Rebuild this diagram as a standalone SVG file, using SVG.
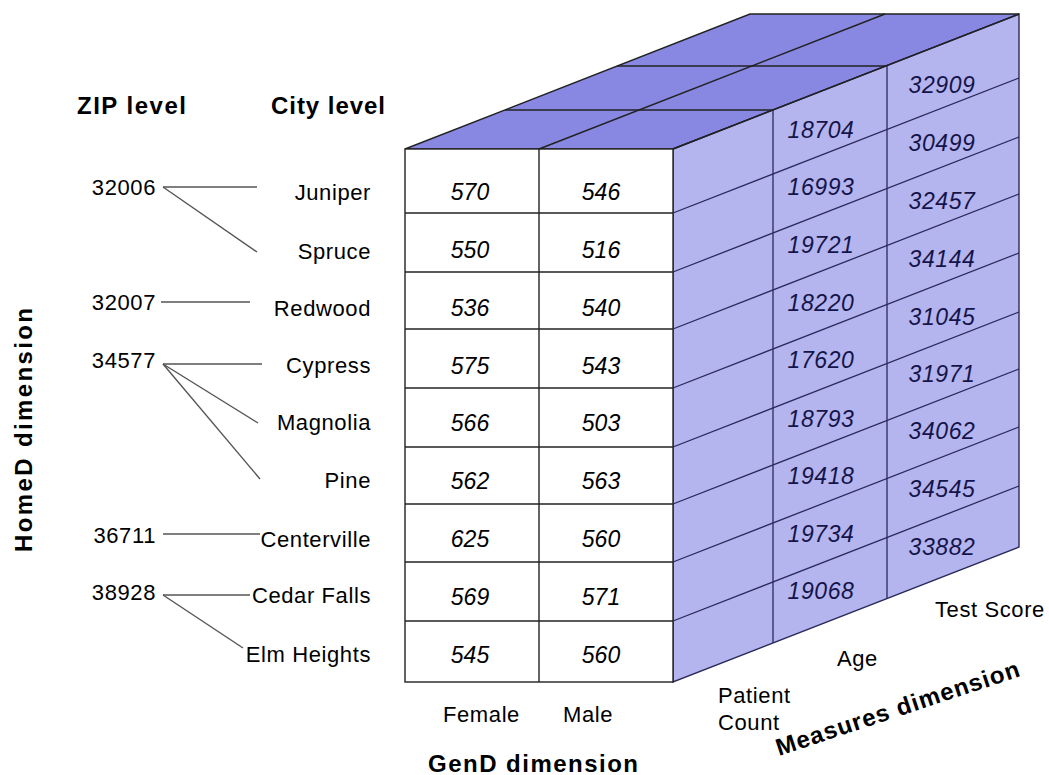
<svg xmlns="http://www.w3.org/2000/svg" width="1049" height="775" viewBox="0 0 1049 775">
<style>
text{font-family:"Liberation Sans",Arial,sans-serif;fill:#000}
.lvl{font-size:24px;font-weight:bold}
.reg{font-size:22px;letter-spacing:0.6px}
.zip{font-size:22px;letter-spacing:0.6px;text-anchor:end}
.city{font-size:22px;letter-spacing:0.6px;text-anchor:end}
.val{font-size:23px;font-style:italic;text-anchor:middle}
.mv{font-size:23px;font-style:italic;text-anchor:middle;letter-spacing:0.6px;fill:#14144a}
.edge{stroke:#222;stroke-width:1.4;fill:none}
.rline{stroke:#2a2a5c;stroke-width:1.3;fill:none}
.conn{stroke:#555;stroke-width:1.4;fill:none}
</style>
<rect width="1049" height="775" fill="#fff"/>

<g id="cube">
  <polygon points="405,149 673,149 1019,14 750,14" fill="#8888e2" stroke="#222" stroke-width="1.4"/>
  <polygon points="673,149 1019,14 1019,547 673,682" fill="#b4b4ee" stroke="#2a2a5c" stroke-width="1.4"/>
  <rect x="405" y="149" width="268" height="533" fill="#fff" stroke="#222" stroke-width="1.4"/>
  <g class="edge">
    <line x1="505" y1="110" x2="773" y2="110"/>
    <line x1="617" y1="66" x2="887" y2="66"/>
    <line x1="539" y1="149" x2="885" y2="14"/>
    <line x1="673" y1="149" x2="1019" y2="14"/>
    <line x1="539" y1="149" x2="539" y2="682"/>
    <line x1="405" y1="213" x2="673" y2="213"/>
    <line x1="405" y1="272" x2="673" y2="272"/>
    <line x1="405" y1="329" x2="673" y2="329"/>
    <line x1="405" y1="388" x2="673" y2="388"/>
    <line x1="405" y1="447" x2="673" y2="447"/>
    <line x1="405" y1="504" x2="673" y2="504"/>
    <line x1="405" y1="562" x2="673" y2="562"/>
    <line x1="405" y1="621" x2="673" y2="621"/>
  </g>
  <g class="rline">
    <line x1="773" y1="110" x2="773" y2="643"/>
    <line x1="887" y1="66" x2="887" y2="599"/>
    <line x1="673" y1="213" x2="1019" y2="78"/>
    <line x1="673" y1="272" x2="1019" y2="137"/>
    <line x1="673" y1="329" x2="1019" y2="194"/>
    <line x1="673" y1="388" x2="1019" y2="253"/>
    <line x1="673" y1="447" x2="1019" y2="312"/>
    <line x1="673" y1="504" x2="1019" y2="369"/>
    <line x1="673" y1="562" x2="1019" y2="427"/>
    <line x1="673" y1="621" x2="1019" y2="486"/>
  </g>
</g>

<g id="front-values">
  <text class="val" x="470" y="200">570</text><text class="val" x="601" y="200">546</text>
  <text class="val" x="470" y="258">550</text><text class="val" x="601" y="258">516</text>
  <text class="val" x="470" y="316">536</text><text class="val" x="601" y="316">540</text>
  <text class="val" x="470" y="374">575</text><text class="val" x="601" y="374">543</text>
  <text class="val" x="470" y="431">566</text><text class="val" x="601" y="431">503</text>
  <text class="val" x="470" y="489">562</text><text class="val" x="601" y="489">563</text>
  <text class="val" x="470" y="547">625</text><text class="val" x="601" y="547">560</text>
  <text class="val" x="470" y="605">569</text><text class="val" x="601" y="605">571</text>
  <text class="val" x="470" y="663">545</text><text class="val" x="601" y="663">560</text>
</g>

<g id="age-values">
  <text class="mv" x="821" y="138">18704</text>
  <text class="mv" x="821" y="195">16993</text>
  <text class="mv" x="821" y="253">19721</text>
  <text class="mv" x="821" y="311">18220</text>
  <text class="mv" x="821" y="368">17620</text>
  <text class="mv" x="821" y="427">18793</text>
  <text class="mv" x="821" y="484">19418</text>
  <text class="mv" x="821" y="542">19734</text>
  <text class="mv" x="821" y="599">19068</text>
</g>

<g id="score-values">
  <text class="mv" x="942" y="93">32909</text>
  <text class="mv" x="942" y="151">30499</text>
  <text class="mv" x="942" y="209">32457</text>
  <text class="mv" x="942" y="267">34144</text>
  <text class="mv" x="942" y="325">31045</text>
  <text class="mv" x="942" y="382">31971</text>
  <text class="mv" x="942" y="439">34062</text>
  <text class="mv" x="942" y="497">34545</text>
  <text class="mv" x="942" y="555">33882</text>
</g>

<g id="connectors" class="conn">
  <line x1="163" y1="187" x2="257" y2="187"/>
  <line x1="163" y1="187" x2="257" y2="252"/>
  <line x1="161" y1="302" x2="250" y2="302"/>
  <line x1="163" y1="364" x2="262" y2="364"/>
  <line x1="163" y1="364" x2="258" y2="423"/>
  <line x1="163" y1="364" x2="260" y2="479"/>
  <line x1="163" y1="534" x2="260" y2="534"/>
  <line x1="163" y1="595" x2="250" y2="595"/>
  <line x1="163" y1="595" x2="243" y2="648"/>
</g>

<g id="zip-level">
  <text class="lvl" x="77" y="114" textLength="109" lengthAdjust="spacing">ZIP level</text>
  <text class="zip" x="156" y="195">32006</text>
  <text class="zip" x="156" y="310">32007</text>
  <text class="zip" x="156" y="368">34577</text>
  <text class="zip" x="156" y="543">36711</text>
  <text class="zip" x="156" y="600">38928</text>
</g>

<g id="city-level">
  <text class="lvl" x="271" y="114" textLength="114" lengthAdjust="spacing">City level</text>
  <text class="city" x="371" y="200">Juniper</text>
  <text class="city" x="371" y="259">Spruce</text>
  <text class="city" x="371" y="316">Redwood</text>
  <text class="city" x="371" y="373">Cypress</text>
  <text class="city" x="371" y="430">Magnolia</text>
  <text class="city" x="371" y="488">Pine</text>
  <text class="city" x="371" y="547">Centerville</text>
  <text class="city" x="371" y="603">Cedar Falls</text>
  <text class="city" x="371" y="662">Elm Heights</text>
</g>

<g id="homed-dimension">
  <text class="lvl" transform="translate(32,430) rotate(-90)" x="0" y="0" text-anchor="middle" textLength="244" lengthAdjust="spacing">HomeD dimension</text>
</g>

<g id="gend-dimension">
  <text class="reg" x="443" y="722">Female</text>
  <text class="reg" x="563" y="722">Male</text>
  <text class="lvl" x="428" y="772" textLength="210" lengthAdjust="spacing">GenD dimension</text>
</g>

<g id="measures-dimension">
  <text class="reg" x="718" y="703">Patient</text>
  <text class="reg" x="718" y="730">Count</text>
  <text class="reg" x="837" y="666">Age</text>
  <text class="reg" x="935" y="617">Test Score</text>
  <text class="lvl" transform="translate(779,756) rotate(-18.3)" x="0" y="0" textLength="255" lengthAdjust="spacing">Measures dimension</text>
</g>
</svg>
